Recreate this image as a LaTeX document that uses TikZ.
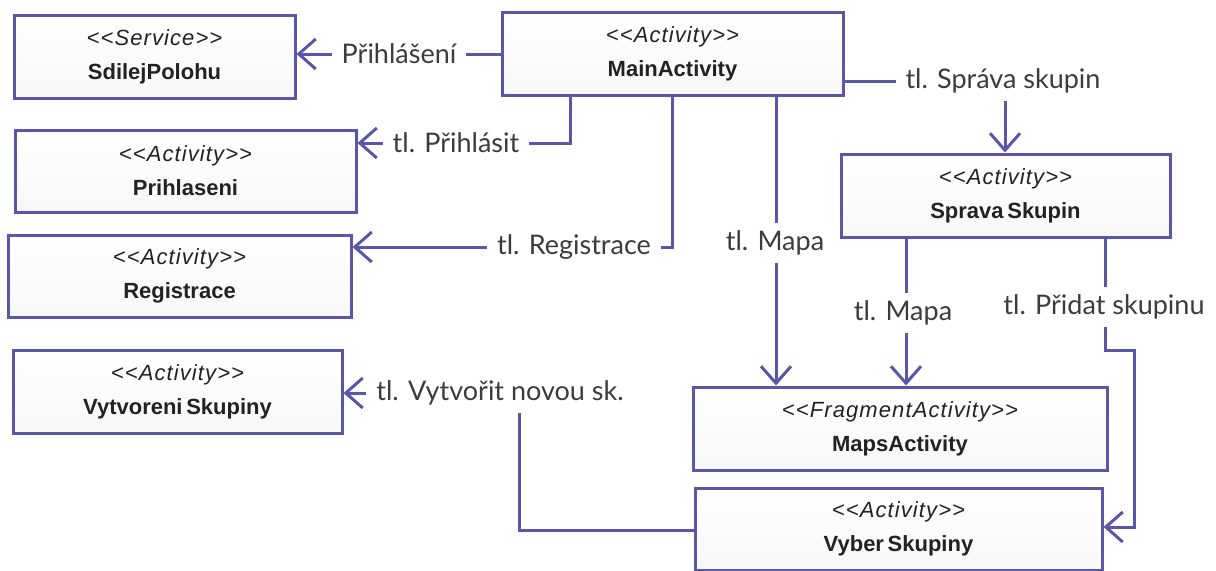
\documentclass[tikz,border=0pt]{standalone}
\usepackage{fontspec}
\setmainfont{Lato}
\newfontfamily\boxfont{Liberation Sans}
\newfontfamily\stereofont{Liberation Sans}[LetterSpace=5]
\usetikzlibrary{arrows.meta}
\definecolor{umlblue}{HTML}{5A58A6}
\definecolor{boxtext}{HTML}{222222}
\definecolor{lbltext}{HTML}{3C3C3C}
\tikzset{
  umlbox/.style={draw=umlblue, line width=1.5pt, top color=white, bottom color=black!3,
    inner sep=0pt, align=center, text=boxtext,
    font=\boxfont\fontsize{11}{17}\selectfont},
  conn/.style={draw=umlblue, line width=1.5pt,
    -{Straight Barb[length=8.5pt,width=15pt]}},
  lbl/.style={fill=white, text=lbltext, inner xsep=5pt, inner ysep=4pt,
    font=\fontsize{13.5}{16}\selectfont},
}
\newcommand{\umlcontent}[2]{{\stereofont\itshape <{}<#1>{}>}\\{\bfseries #2}}
\begin{document}
\begin{tikzpicture}[x=0.5pt,y=-0.5pt]
\useasboundingbox (0,0) rectangle (1216,570);
\clip (0,0) rectangle (1216,570);

% classes
\node[umlbox, minimum width=140.5pt, minimum height=41.5pt] (sdilej) at (154.5,56.5)
  {\umlcontent{Service}{SdilejPolohu}};
\node[umlbox, minimum width=170.5pt, minimum height=41.5pt] (main) at (672.5,53.5)
  {\umlcontent{Activity}{MainActivity}};
\node[umlbox, minimum width=170.5pt, minimum height=41pt] (prihl) at (185.5,171)
  {\umlcontent{Activity}{Prihlaseni}};
\node[umlbox, minimum width=171.5pt, minimum height=41pt] (regis) at (179.5,276)
  {\umlcontent{Activity}{Registrace}};
\node[umlbox, minimum width=164.5pt, minimum height=41.5pt] (vytv) at (177.5,391.5)
  {\umlcontent{Activity}{Vytvoreni\,Skupiny}};
\node[umlbox, minimum width=164.5pt, minimum height=41.5pt] (sprava) at (1005.5,195.5)
  {\umlcontent{Activity}{Sprava\,Skupin}};
\node[umlbox, minimum width=207pt, minimum height=41.5pt] (maps) at (900,428.5)
  {\umlcontent{FragmentActivity}{MapsActivity}};
\node[umlbox, minimum width=203.5pt, minimum height=41pt] (vyber) at (898.5,529)
  {\umlcontent{Activity}{Vyber\,Skupiny}};

% bend points
\coordinate (pa) at (1105,350);
\coordinate (pb) at (1134,350);
\coordinate (pc) at (519,393);

% transitions
\draw[conn] (main.west |- 0,54) -- (sdilej.east |- 0,54);
\draw[conn] (main.south -| 570,0) |- (prihl.east |- 0,143);
\draw[conn] (main.south -| 672,0) |- (regis.east |- 0,247);
\draw[conn] (main.south -| 776,0) -- (maps.north -| 776,0);
\draw[conn] (main.east |- 0,81) -| (sprava.north -| 1005,0);
\draw[conn] (sprava.south -| 906,0) -- (maps.north -| 906,0);
\draw[conn] (sprava.south -| 1105,0) -- (pa) -- (pb) |- (vyber.east |- 0,527);
\draw[conn] (vyber.west |- 0,530) -| (pc) -- (vytv.east |- 0,393);

% transition labels
\node[lbl] (l1) at (399,54) {Přihlášení};
\node[lbl] (l2) at (456,143) {tl. Přihlásit};
\node[lbl] (l3) at (574,247) {tl. Registrace};
\node[lbl] (l4) at (775,243) {tl. Mapa};
\node[lbl] (l5) at (1003,81) {tl. Správa skupin};
\node[lbl] (l6) at (903,313) {tl. Mapa};
\node[lbl] (l7) at (1104,307) {tl. Přidat skupinu};
\node[lbl] (l8) at (500,393) {tl. Vytvořit novou sk.};
\end{tikzpicture}
\end{document}
